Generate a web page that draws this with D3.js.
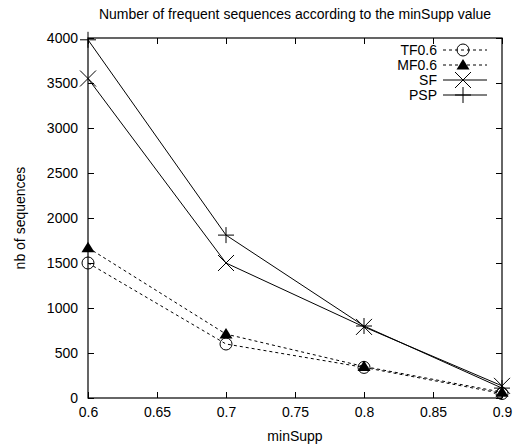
<!DOCTYPE html>
<html><head><meta charset="utf-8">
<script src="https://cdn.jsdelivr.net/npm/d3@7/dist/d3.min.js"></script>
<style>body{margin:0;background:#fff;} text{font-family:"Liberation Sans",Arial,sans-serif;}</style>
</head><body><svg id="c" width="519" height="445"></svg>
<script>
const minSupp = [0.6, 0.7, 0.8, 0.9];
const TF = [1500, 600, 340, 50];
const MF = [1670, 710, 350, 65];
const SF = [3550, 1500, 790, 135];
const PSP = [3980, 1810, 800, 110];
const seriesNames = ["TF0.6", "MF0.6", "SF", "PSP"];
const xTicks = [0.6, 0.65, 0.7, 0.75, 0.8, 0.85, 0.9];
const yTicks = [0, 500, 1000, 1500, 2000, 2500, 3000, 3500, 4000];

const svg = d3.select("#c");
const L = 88, R = 502, T = 38, B = 398;
const x = d3.scaleLinear().domain([0.6, 0.9]).range([L, R]);
const y = d3.scaleLinear().domain([0, 4000]).range([B, T]);
const fs = 14;

const ax = (g, axis) => { g.call(axis); g.select(".domain").remove(); g.selectAll("line").attr("stroke","#000"); g.selectAll("text").attr("font-size", fs).attr("fill","#000").attr("font-family","Liberation Sans, Arial, sans-serif"); };
svg.append("g").attr("transform",`translate(0,${B})`).call(g=>ax(g, d3.axisBottom(x).tickValues(xTicks).tickFormat(d3.format("")).tickSizeInner(-6).tickPadding(9)));
svg.append("g").attr("transform",`translate(0,${T})`).call(g=>{ax(g, d3.axisTop(x).tickValues(xTicks).tickSizeInner(-6)); g.selectAll("text").remove();});
svg.append("g").attr("transform",`translate(${L},0)`).call(g=>ax(g, d3.axisLeft(y).tickValues(yTicks).tickFormat(d3.format("d")).tickSizeInner(-6).tickPadding(10)));
svg.append("g").attr("transform",`translate(${R},0)`).call(g=>{ax(g, d3.axisRight(y).tickValues(yTicks).tickSizeInner(-6)); g.selectAll("text").remove();});
svg.append("rect").attr("x",L).attr("y",T).attr("width",R-L).attr("height",B-T).attr("fill","none").attr("stroke","#000").attr("stroke-width",1.2);

svg.append("text").attr("x",(L+R)/2).attr("y",19).attr("text-anchor","middle").attr("font-size",fs).text("Number of frequent sequences according to the minSupp value");
svg.append("text").attr("x",(L+R)/2).attr("y",441).attr("text-anchor","middle").attr("font-size",fs).text("minSupp");
svg.append("text").attr("transform",`translate(25,${(T+B)/2}) rotate(-90)`).attr("text-anchor","middle").attr("font-size",fs).text("nb of sequences");

const data = [TF, MF, SF, PSP];
const dash = ["3,3", "3,3", null, null];
const markers = [
  (g)=>g.append("circle").attr("r",6).attr("fill","none").attr("stroke","#000"),
  (g)=>g.append("path").attr("d","M0,-6L6.5,4.5L-6.5,4.5Z").attr("fill","#000"),
  (g)=>g.append("path").attr("d","M-8,-8L8,8M-8,8L8,-8").attr("stroke","#000").attr("fill","none"),
  (g)=>g.append("path").attr("d","M-8,0L8,0M0,-8L0,8").attr("stroke","#000").attr("fill","none")
];
const line = d3.line().x((d,i)=>x(minSupp[i])).y(d=>y(d));
data.forEach((s,k)=>{
  svg.append("path").attr("d", line(s)).attr("fill","none").attr("stroke","#000").attr("stroke-width",1).attr("stroke-dasharray", dash[k]);
  s.forEach((v,i)=>{ const g = svg.append("g").attr("transform",`translate(${x(minSupp[i])},${y(v)})`); markers[k](g); });
});

const ly = [50, 65, 80, 95];
seriesNames.forEach((n,k)=>{
  svg.append("text").attr("x",437).attr("y",ly[k]+5).attr("text-anchor","end").attr("font-size",fs).text(n);
  svg.append("line").attr("x1",443).attr("x2",487).attr("y1",ly[k]).attr("y2",ly[k]).attr("stroke","#000").attr("stroke-dasharray",dash[k]);
  const g = svg.append("g").attr("transform",`translate(463,${ly[k]})`); markers[k](g);
});
</script></body></html>
